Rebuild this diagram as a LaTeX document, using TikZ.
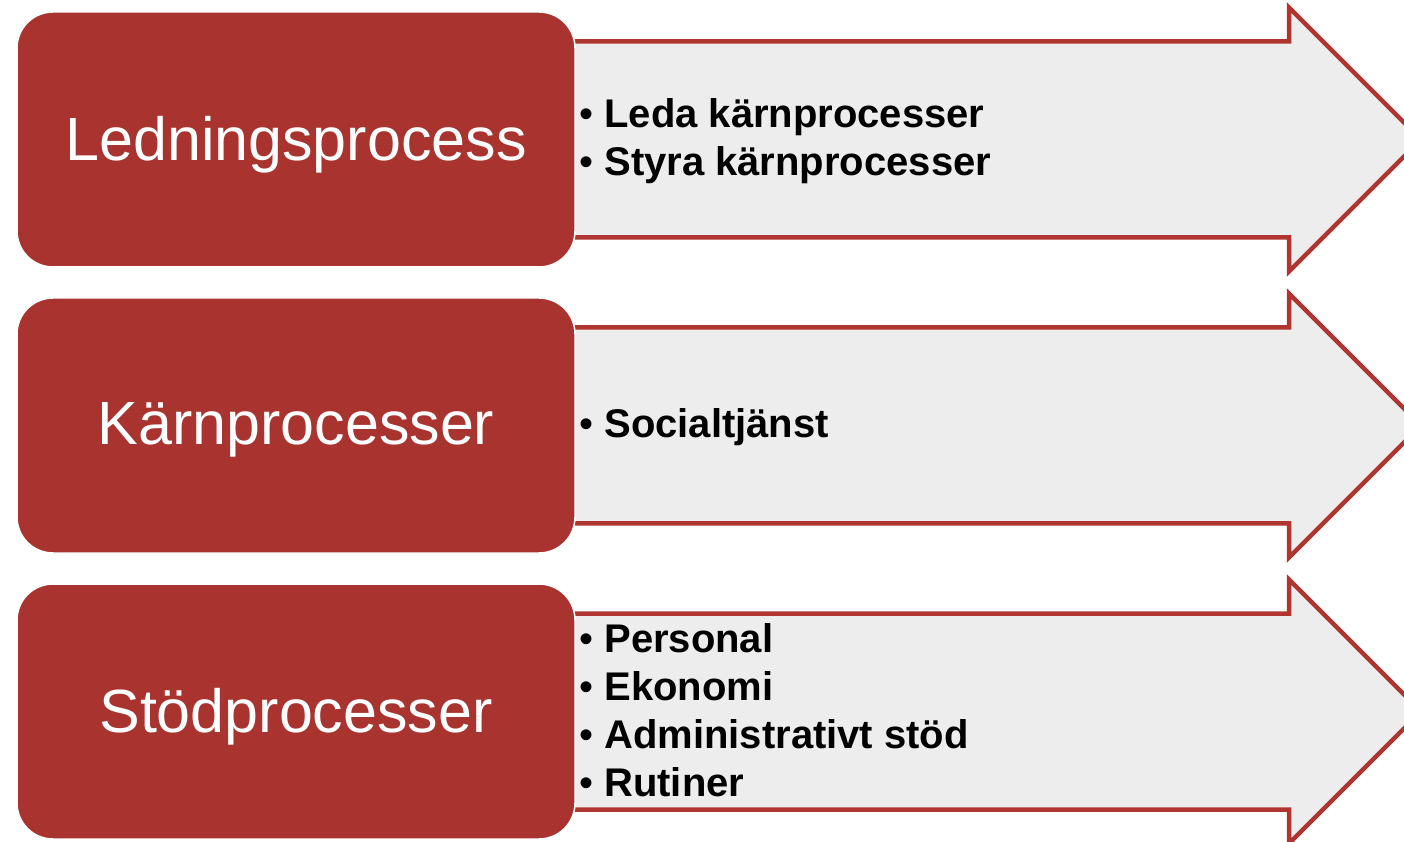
\documentclass[tikz,border=0pt]{standalone}
\usepackage{fontspec}
\setmainfont{Liberation Sans}
\definecolor{procred}{RGB}{169,51,47}
\definecolor{arrowred}{RGB}{176,52,48}
\definecolor{arrowfill}{RGB}{237,237,237}
\tikzset{
  procbox/.style={draw=white, line width=1.5pt, fill=procred, rounded corners=36pt,
    minimum width=558pt, minimum height=255pt, text=white, inner sep=0pt,
    text depth=3pt, font=\fontsize{61}{73}\selectfont},
  proclist/.style={anchor=west, align=left, inner sep=0pt,
    font=\fontsize{40}{48}\selectfont\bfseries},
  procarrow/.style={draw=arrowred, line width=4.5pt, fill=arrowfill, miter limit=10}
}
\begin{document}
\begin{tikzpicture}[x=1pt, y=1pt]
          \clip (0,0) rectangle (1404,841);
          \foreach \cy in {701.5,415.5,129.5}
            \draw[procarrow] (540,\cy+98) -- (1289,\cy+98) -- (1289,\cy+132) -- (1421,\cy)
              -- (1289,\cy-132) -- (1289,\cy-98) -- (540,\cy-98) -- cycle;
          \node[procbox] (lead) at (296,701.5) {Ledningsprocess};
          \node[procbox] (karn) at (296,415.5) {Kärnprocesser};
          \node[procbox] (stod) at (296,129.5) {Stödprocesser};
          \node[proclist] (leadlist) at (579,700) {{\mdseries\textbullet} Leda kärnprocesser\\{\mdseries\textbullet} Styra kärnprocesser};
          \node[proclist] (karnlist) at (579,414) {{\mdseries\textbullet} Socialtjänst};
          \node[proclist] (stodlist) at (579,131) {{\mdseries\textbullet} Personal\\{\mdseries\textbullet} Ekonomi\\{\mdseries\textbullet} Administrativt stöd\\{\mdseries\textbullet} Rutiner};
        \end{tikzpicture}
\end{document}
